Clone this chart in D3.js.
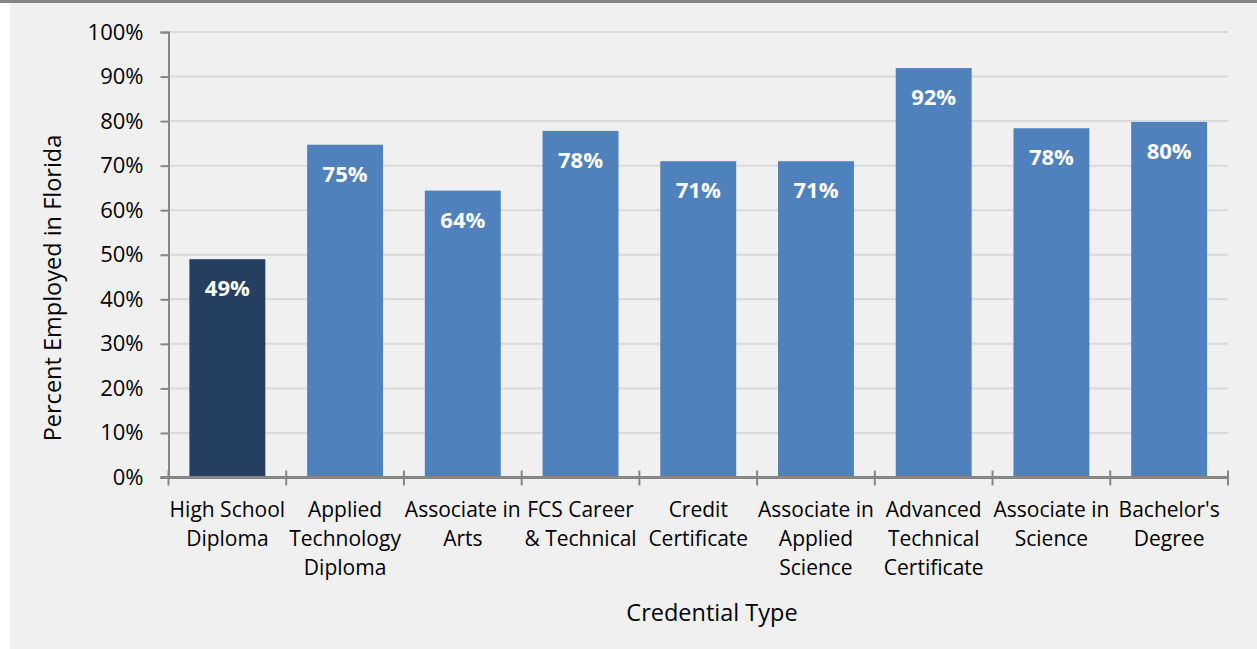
<!DOCTYPE html>
<html><head><meta charset="utf-8">
<script src="https://cdn.jsdelivr.net/npm/d3@7"></script>
<style>
html,body{margin:0;padding:0;background:#fff;}
svg{display:block;}
text{font-family:"Open Sans",sans-serif;fill:#000;}
</style></head>
<body>
<svg id="chart" width="1257" height="649"></svg>
<script>
const categories = [
  ["High School","Diploma"],
  ["Applied","Technology","Diploma"],
  ["Associate in","Arts"],
  ["FCS Career","& Technical"],
  ["Credit","Certificate"],
  ["Associate in","Applied","Science"],
  ["Advanced","Technical","Certificate"],
  ["Associate in","Science"],
  ["Bachelor's","Degree"]
];
const values = [49.0, 74.7, 64.4, 77.8, 71.0, 71.0, 91.9, 78.4, 79.8];
const valueLabels = ["49%","75%","64%","78%","71%","71%","92%","78%","80%"];
const yTicks = [0,10,20,30,40,50,60,70,80,90,100];
const barColors = ["#243f60","#4f81bd","#4f81bd","#4f81bd","#4f81bd","#4f81bd","#4f81bd","#4f81bd","#4f81bd"];

(function(){
const svg = d3.select("#chart");
svg.append("rect").attr("x",10).attr("y",3).attr("width",1247).attr("height",646).attr("fill","#f0f0f0");
svg.append("rect").attr("x",0).attr("y",0).attr("width",1257).attr("height",3).attr("fill","#868686");

const pl = 168.5, pr = 1228, pt = 32, pb = 477.5;
const x = d3.scaleBand().domain(d3.range(categories.length)).range([pl,pr]).paddingInner(0.355).paddingOuter(0.1775);
const y = d3.scaleLinear().domain([0,100]).range([pb,pt]);

svg.append("g").selectAll("line").data(yTicks.filter(d=>d>0)).join("line")
  .attr("x1",pl).attr("x2",pr).attr("y1",d=>y(d)).attr("y2",d=>y(d))
  .attr("stroke","#d9d9d9").attr("stroke-width",2);

svg.append("g").selectAll("rect").data(values).join("rect")
  .attr("x",(d,i)=>x(i)).attr("width",x.bandwidth())
  .attr("y",d=>y(d)).attr("height",d=>pb-y(d))
  .attr("fill",(d,i)=>barColors[i]);

svg.append("g").selectAll("text").data(values).join("text")
  .attr("x",(d,i)=>x(i)+x.bandwidth()/2).attr("y",d=>y(d)+37)
  .attr("text-anchor","middle").style("font-weight","bold").style("font-size","22px").style("fill","#fff")
  .text((d,i)=>valueLabels[i]);

const yAxis = d3.axisLeft(y).tickValues(yTicks).tickFormat(d=>d+"%").tickSize(8).tickPadding(17);
const gy = svg.append("g").attr("transform",`translate(${pl},0)`).call(yAxis);
gy.select(".domain").attr("stroke","#868686").attr("stroke-width",2);
gy.selectAll(".tick line").attr("stroke","#868686").attr("stroke-width",2);
gy.selectAll(".tick text").style("font-size","22px").style("font-family","Open Sans").attr("fill","#000");

const xb = d3.scaleLinear().domain([0,categories.length]).range([pl,pr]);
const gx = svg.append("g").attr("transform",`translate(0,${pb})`);
gx.append("line").attr("x1",pl-8).attr("x2",pr).attr("y1",0).attr("y2",0).attr("stroke","#868686").attr("stroke-width",3);
gx.selectAll("line.tk").data(d3.range(categories.length+1)).join("line").attr("class","tk")
  .attr("x1",d=>xb(d)).attr("x2",d=>xb(d)).attr("y1",-7).attr("y2",8).attr("stroke","#868686").attr("stroke-width",2);
const lbl = gx.selectAll("text.cat").data(categories).join("text").attr("class","cat")
  .attr("text-anchor","middle").style("font-size","21px")
  .attr("transform",(d,i)=>`translate(${x(i)+x.bandwidth()/2},39)`);
lbl.selectAll("tspan").data(d=>d).join("tspan").attr("x",0).attr("dy",(d,i)=>i===0?0:29).text(d=>d);

svg.append("text").attr("x",712).attr("y",621).attr("text-anchor","middle").style("font-size","23.5px").text("Credential Type");
svg.append("text").attr("transform",`translate(61,288) rotate(-90)`).attr("text-anchor","middle").style("font-size","23.5px").text("Percent Employed in Florida");
})();
</script>
</body></html>
